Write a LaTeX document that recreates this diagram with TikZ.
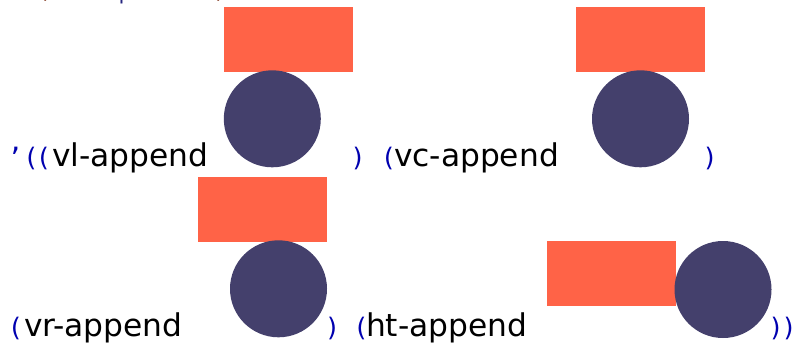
\documentclass[tikz,border=0pt]{standalone}
\usepackage{fontspec}
\newfontfamily\labelfont{DejaVu Sans}
\newfontfamily\codefont{DejaVu Sans Mono}
\definecolor{tomatofill}{RGB}{255,99,71}
\definecolor{slatefill}{RGB}{68,64,108}
\definecolor{resultblue}{RGB}{0,0,175}
\definecolor{parenbrown}{RGB}{132,60,36}
\definecolor{symnavy}{RGB}{38,38,128}
\tikzset{
  every node/.style={inner sep=0pt, outer sep=0pt},
  fnlabel/.style={font=\labelfont\fontsize{31.3}{31.3}\selectfont, text=black, anchor=base west},
  paren/.style={font=\codefont\fontsize{25.5}{25.5}\selectfont, text=resultblue, anchor=base},
  codechar/.style={font=\codefont\fontsize{21.5}{21.5}\selectfont, anchor=base},
  rectpict/.style={rectangle, fill=tomatofill, draw=none, minimum width=129pt, minimum height=65.3pt, anchor=north west},
  diskpict/.style={circle, fill=slatefill, draw=none, minimum size=97pt},
}
\begin{document}
\begin{tikzpicture}[x=1pt, y=-1pt]
  \useasboundingbox (0,0) rectangle (794,343);
  \clip (0,0) rectangle (794,343);

  % tail of the previous code line
  \node[codechar, text=parenbrown] (prevA) at (47,-1.5) {)};
  \node[codechar, text=symnavy]    (prevB) at (125,-0.5) {p};
  \node[codechar, text=parenbrown] (prevC) at (220,-1.5) {)};

  % row 1: vl-append
  \node[paren] (q1) at (15,166) {’};
  \node[paren] (q1a) at (31,166) {(};
  \node[paren] (q1b) at (43.5,166) {(};
  \node[fnlabel] (lbl1) at (52,166) {vl-append};
  \node[rectpict] (r1) at (224,6.7) {};
  \node[diskpict] (c1) at (272.3,118.8) {};
  \node[paren] (p1) at (358,166) {)};

  % row 1: vc-append
  \node[paren] (o2) at (388.5,166) {(};
  \node[fnlabel] (lbl2) at (394,166) {vc-append};
  \node[rectpict] (r2) at (576,6.7) {};
  \node[diskpict] (c2) at (640.5,118.8) {};
  \node[paren] (p2) at (710,166) {)};

  % row 2: vr-append
  \node[paren] (o3) at (15.5,336) {(};
  \node[fnlabel] (lbl3) at (24,336) {vr-append};
  \node[rectpict] (r3) at (198,176.7) {};
  \node[diskpict] (c3) at (278.5,288.8) {};
  \node[paren] (p3) at (332.5,336) {)};

  % row 2: ht-append
  \node[paren] (o4) at (361,336) {(};
  \node[fnlabel] (lbl4) at (366,336) {ht-append};
  \node[rectpict] (r4) at (547,241) {};
  \node[diskpict] (c4) at (723,289.5) {};
  \node[paren] (p4a) at (776,336) {)};
  \node[paren] (p4b) at (789,336) {)};
\end{tikzpicture}
\end{document}
